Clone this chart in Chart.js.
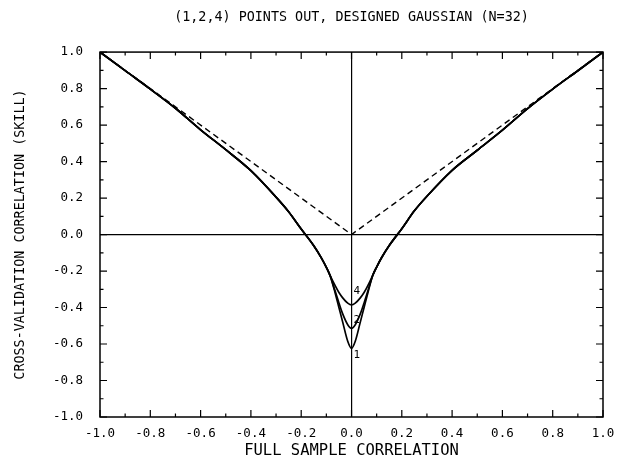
<!DOCTYPE html>
<html>
<head>
<meta charset="utf-8">
<script src="https://cdn.jsdelivr.net/npm/chart.js@4.4.0/dist/chart.umd.min.js"></script>
<style>
  html, body { margin: 0; padding: 0; background: #fff; }
</style>
</head>
<body>
<canvas id="cvChart" width="624" height="463"></canvas>
<script>
const titleText = '(1,2,4) POINTS OUT, DESIGNED GAUSSIAN (N=32)';
const xTitle = 'FULL SAMPLE CORRELATION';
const yTitle = 'CROSS-VALIDATION CORRELATION (SKILL)';

const tickValues = [-1.0, -0.8, -0.6, -0.4, -0.2, 0.0, 0.2, 0.4, 0.6, 0.8, 1.0];

// full sample correlation (shared x for the three curves)
const xs = [-1, -0.9, -0.8, -0.7, -0.6, -0.5, -0.4, -0.3, -0.25, -0.2, -0.15, -0.12, -0.1, -0.085,
            -0.065, -0.05, -0.035, -0.015, 0, 0.015, 0.035, 0.05, 0.065,
            0.085, 0.1, 0.12, 0.15, 0.2, 0.25, 0.3, 0.4, 0.5, 0.6, 0.7, 0.8, 0.9, 1];

// cross-validation skill, 1 / 2 / 4 points left out
const out1 = [1.0, 0.898, 0.797, 0.692, 0.574, 0.465, 0.35, 0.205, 0.125, 0.03, -0.062, -0.128, -0.18, -0.225,
              -0.32, -0.40, -0.48, -0.585, -0.624, -0.585, -0.48, -0.40, -0.32,
              -0.222, -0.178, -0.126, -0.06, 0.032, 0.13, 0.21, 0.352, 0.462, 0.572, 0.69, 0.797, 0.898, 1.0];
const out2 = [1.0, 0.898, 0.797, 0.692, 0.574, 0.465, 0.35, 0.205, 0.125, 0.03, -0.062, -0.128, -0.18, -0.225,
              -0.31, -0.375, -0.435, -0.494, -0.514, -0.494, -0.435, -0.375, -0.31,
              -0.222, -0.178, -0.126, -0.06, 0.032, 0.13, 0.21, 0.352, 0.462, 0.572, 0.69, 0.797, 0.898, 1.0];
const out4 = [1.0, 0.898, 0.797, 0.692, 0.574, 0.465, 0.35, 0.205, 0.125, 0.03, -0.062, -0.128, -0.18, -0.225,
              -0.28, -0.318, -0.347, -0.376, -0.386, -0.376, -0.347, -0.318, -0.28,
              -0.222, -0.178, -0.126, -0.06, 0.032, 0.13, 0.21, 0.352, 0.462, 0.572, 0.69, 0.797, 0.898, 1.0];

// dashed reference |r|
const refX = [-1, 0, 1];
const refY = [1, 0, 1];

const curveLabels = ['4', '2', '1'];
const curveLabelY = [-0.31, -0.47, -0.66];
const curveLabelX = 0.008;

const FONT = 'DejaVu Sans Mono';

function pts(xv, yv) {
    return xv.map((x, i) => ({ x: x, y: yv[i] }));
}

function solid(data) {
    return {
        data: data,
        showLine: true,
        borderColor: '#000',
        borderWidth: 1.7,
        pointRadius: 0,
        cubicInterpolationMode: 'monotone'
    };
}

// frame with inward ticks on four sides, plus curve numbers
const frameTicks = {
    id: 'frameTicks',
    afterDatasetsDraw(chart) {
        const { ctx, chartArea: a, scales: { x, y } } = chart;
        ctx.save();
        ctx.strokeStyle = '#000';
        ctx.lineWidth = 1.5;
        ctx.strokeRect(a.left, a.top, a.right - a.left, a.bottom - a.top);

        ctx.lineWidth = 1.2;
        ctx.beginPath();
        tickValues.forEach((v, i) => {
            const marks = [[v, 7]];
            if (i < tickValues.length - 1) marks.push([(v + tickValues[i + 1]) / 2, 3.5]);
            marks.forEach(([m, len]) => {
                const px = x.getPixelForValue(m);
                const py = y.getPixelForValue(m);
                ctx.moveTo(px, a.bottom); ctx.lineTo(px, a.bottom - len);
                ctx.moveTo(px, a.top); ctx.lineTo(px, a.top + len);
                ctx.moveTo(a.left, py); ctx.lineTo(a.left + len, py);
                ctx.moveTo(a.right, py); ctx.lineTo(a.right - len, py);
            });
        });
        ctx.stroke();

        ctx.fillStyle = '#000';
        ctx.font = '11px "' + FONT + '"';
        ctx.textAlign = 'left';
        ctx.textBaseline = 'middle';
        curveLabels.forEach((t, i) => {
            ctx.fillText(t, x.getPixelForValue(curveLabelX), y.getPixelForValue(curveLabelY[i]));
        });
        ctx.restore();
    }
};

const zeroGrid = {
    drawTicks: false,
    color: c => (c.tick && c.tick.value === 0) ? '#000' : 'rgba(0,0,0,0)',
    lineWidth: 1.2
};

const ctx = document.getElementById('cvChart').getContext('2d');
new Chart(ctx, {
    type: 'scatter',
    data: {
        datasets: [
            {
                data: pts(refX, refY),
                showLine: true,
                borderColor: '#000',
                borderWidth: 1.4,
                borderDash: [6, 4],
                pointRadius: 0,
                tension: 0
            },
            solid(pts(xs, out1)),
            solid(pts(xs, out2)),
            solid(pts(xs, out4))
        ]
    },
    options: {
        responsive: false,
        animation: false,
        devicePixelRatio: 1,
        layout: { padding: { left: 0, right: 21, top: 0, bottom: 0 } },
        plugins: {
            legend: { display: false },
            tooltip: { enabled: false },
            title: {
                display: true,
                text: titleText,
                fullSize: false,
                color: '#000',
                font: { family: FONT, size: 13.4, weight: 'normal' },
                padding: { top: 9, bottom: 27 }
            }
        },
        scales: {
            x: {
                type: 'linear',
                min: -1, max: 1,
                afterBuildTicks: s => { s.ticks = tickValues.map(v => ({ value: v })); },
                afterFit: s => { s.height = 46; },
                grid: zeroGrid,
                border: { display: false },
                ticks: {
                    color: '#000',
                    font: { family: FONT, size: 12.5 },
                    padding: 9,
                    maxRotation: 0,
                    autoSkip: false,
                    callback: v => v.toFixed(1)
                },
                title: {
                    display: true,
                    text: xTitle,
                    color: '#000',
                    font: { family: FONT, size: 15.5 },
                    padding: { top: 0, bottom: 3 }
                }
            },
            y: {
                type: 'linear',
                min: -1, max: 1,
                afterBuildTicks: s => { s.ticks = tickValues.map(v => ({ value: v })); },
                afterFit: s => { s.width = 100; },
                grid: zeroGrid,
                border: { display: false },
                ticks: {
                    color: '#000',
                    font: { family: FONT, size: 12.5 },
                    padding: 17,
                    autoSkip: false,
                    callback: v => v.toFixed(1)
                },
                title: {
                    display: true,
                    text: yTitle,
                    color: '#000',
                    font: { family: FONT, size: 13.4 },
                    padding: { top: 12, bottom: 0 }
                }
            }
        }
    },
    plugins: [frameTicks]
});
</script>
</body>
</html>
